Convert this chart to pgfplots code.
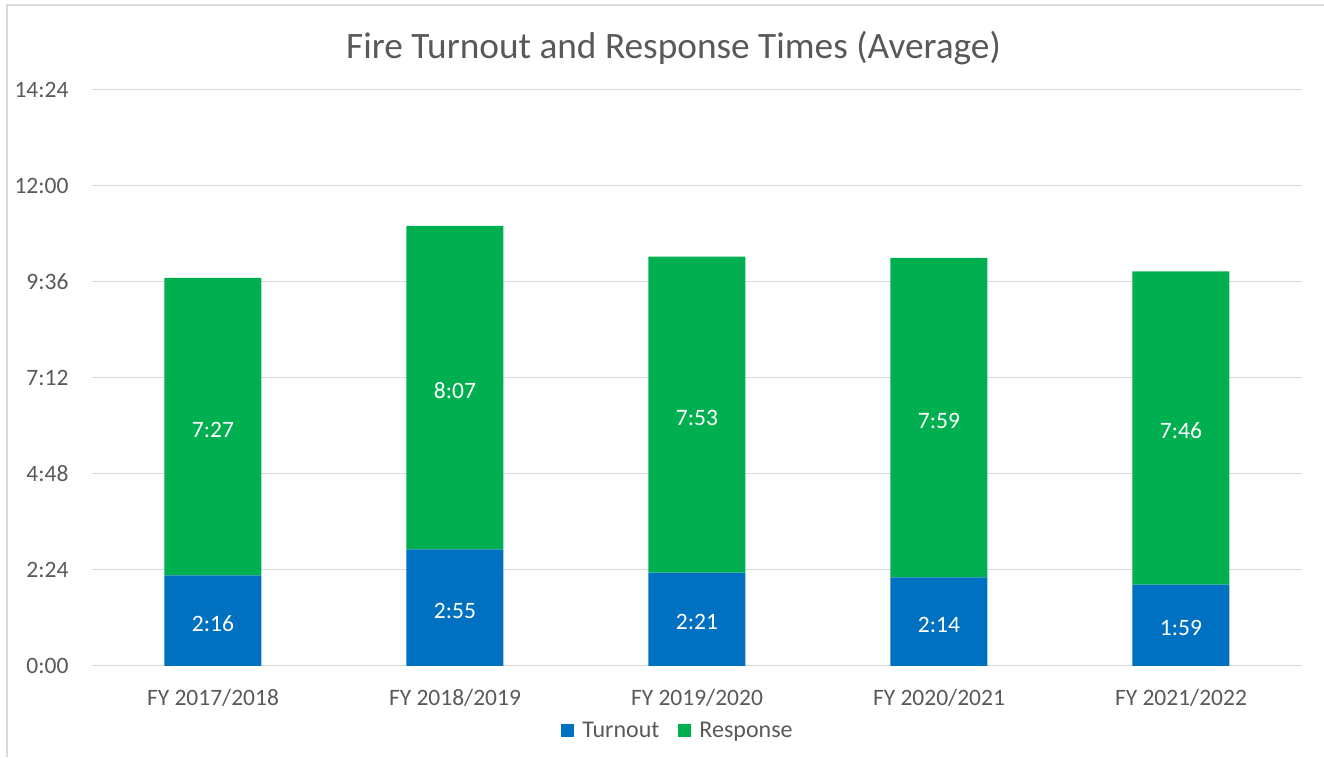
\documentclass[border=0pt]{standalone}
\usepackage{pgfplots}
\pgfplotsset{compat=1.18}
\usepackage{pgfplotstable}
\usepackage{fontspec}
\setmainfont{Carlito}
\definecolor{turn}{HTML}{0070C0}
\definecolor{resp}{HTML}{00B050}
\definecolor{txt}{HTML}{595959}
\definecolor{gridc}{HTML}{D9D9D9}

\pgfplotstableread{
x y lab
0 136 2:16
1 175 2:55
2 140 2:21
3 133 2:14
4 122 1:59
}\turnout
\pgfplotstableread{
x y lab
0 446 7:27
1 485 8:07
2 474 7:53
3 479 7:59
4 470 7:46
}\response

\begin{document}
\begin{tikzpicture}
\useasboundingbox (0pt,0pt) rectangle (1324pt,757pt);
\draw[gridc, line width=1.5pt] (7pt,0pt) -- (7pt,752pt) -- (1324pt,752pt);
\begin{axis}[
  at={(92pt,91pt)}, anchor=south west,
  scale only axis, width=1210pt, height=576pt,
  ybar stacked, bar width=97pt, bar shift=0pt,
  xmin=-0.5, xmax=4.5, ymin=0, ymax=864,
  xtick={0,1,2,3,4},
  xticklabels={FY 2017/2018, FY 2018/2019, FY 2019/2020, FY 2020/2021, FY 2021/2022},
  ytick={0,144,288,432,576,720,864},
  yticklabels={0:00, 2:24, 4:48, 7:12, 9:36, 12:00, 14:24},
  axis line style={draw=none},
  tick style={draw=none},
  ymajorgrids, grid style={gridc, line width=1pt},
  ticklabel style={font=\fontsize{23.5}{27}\selectfont, text=txt},
  yticklabel style={xshift=-20pt},
  xticklabel style={yshift=-20pt},
  title={Fire Turnout and Response Times (Average)},
  title style={at={(0.4806,1)}, anchor=center, yshift=36pt, font=\fontsize{37.3}{42}\selectfont, text=txt},
  legend columns=2,
  legend style={at={(0.4843,-0.1128)}, anchor=center, draw=none, fill=none,
    font=\fontsize{24}{28}\selectfont, text=txt,
    /tikz/every odd column/.append style={column sep=6pt},
    /tikz/every even column/.append style={column sep=17pt}},
  legend image code/.code={\fill[#1] (0pt,-6.5pt) rectangle (13pt,6.5pt);},
  nodes near coords,
  point meta=explicit symbolic,
  every node near coord/.append style={anchor=center, text=white, yshift=-3pt,
    font=\fontsize{23.5}{27}\selectfont},
]
\addplot[fill=turn, draw=none] table[x=x, y=y, meta=lab] {\turnout};
\addlegendentry{Turnout}
\addplot[fill=resp, draw=none] table[x=x, y=y, meta=lab] {\response};
\addlegendentry{Response}
\end{axis}
\end{tikzpicture}
\end{document}
